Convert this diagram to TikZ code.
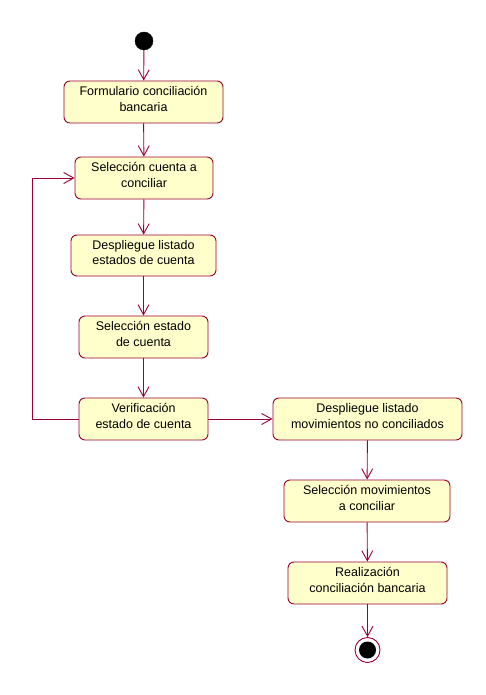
\documentclass[tikz,border=0pt]{standalone}
\usepackage{fontspec}
\setmainfont{Liberation Sans}
\usetikzlibrary{arrows.meta}
\definecolor{edge}{HTML}{990033}
\definecolor{actfill}{HTML}{FFFFCC}
\tikzset{
  activity/.style={draw=edge, fill=actfill, rounded corners=6pt, line width=0.9pt, inner sep=0pt},
  acttext/.style={align=center, font=\fontsize{12.5}{15.5}\selectfont, inner sep=0pt, yshift=3pt},
  flow/.style={draw=edge, line width=0.9pt, -{Straight Barb[length=10pt,width=11pt,line width=0.9pt]}},
}
% activity box: name, centre, width, height, text
\newcommand{\actbox}[5]{%
  \node[activity, minimum width=#3pt, minimum height=#4pt] (#1) at #2 {};
  \node[acttext] (#1-text) at (#1.center) {#5};}
\begin{document}
\begin{tikzpicture}[x=1pt, y=-1pt]
  \useasboundingbox (0,0) rectangle (485,695);
  % initial and final states
  \node[circle, fill=black, draw=black, minimum size=18pt, inner sep=0pt] (start) at (144,41) {};
  \node[circle, draw=edge, fill=white, line width=0.9pt, minimum size=25pt, inner sep=0pt] (end) at (367.5,650) {};
  \node[circle, fill=black, minimum size=17pt, inner sep=0pt] (endin) at (367.5,650) {};
  % activities
  \actbox{formulario}{(143.5,102)}{159}{42}{Formulario conciliación\\bancaria}
  \actbox{selcuenta}{(144,178)}{138}{42}{Selección cuenta a\\conciliar}
  \actbox{despestados}{(143.5,255.5)}{145}{41}{Despliegue listado\\estados de cuenta}
  \actbox{selestado}{(143.5,337)}{129}{42}{Selección estado\\de cuenta}
  \actbox{verif}{(143.5,419)}{129}{42}{Verificación\\estado de cuenta}
  \actbox{despmov}{(367.5,419)}{189}{42}{Despliegue listado\\movimientos no conciliados}
  \actbox{selmov}{(367,501)}{166}{42}{Selección movimientos\\a conciliar}
  \actbox{realiz}{(367.5,583)}{159}{42}{Realización\\conciliación bancaria}
  % transitions
  \draw[flow] (start) -- (formulario);
  \draw[flow] (formulario) -- (selcuenta);
  \draw[flow] (selcuenta) -- (despestados);
  \draw[flow] (despestados) -- (selestado);
  \draw[flow] (selestado) -- (verif);
  \draw[flow] (verif) -- (despmov);
  \draw[flow] (despmov) -- (selmov);
  \draw[flow] (selmov) -- (realiz);
  \draw[flow] (realiz) -- (end);
  \coordinate (loopbot) at (32,419);
  \coordinate (looptop) at (32,178);
  \draw[flow] (verif.west) -- (loopbot) -- (looptop) -- (selcuenta.west);
\end{tikzpicture}
\end{document}
